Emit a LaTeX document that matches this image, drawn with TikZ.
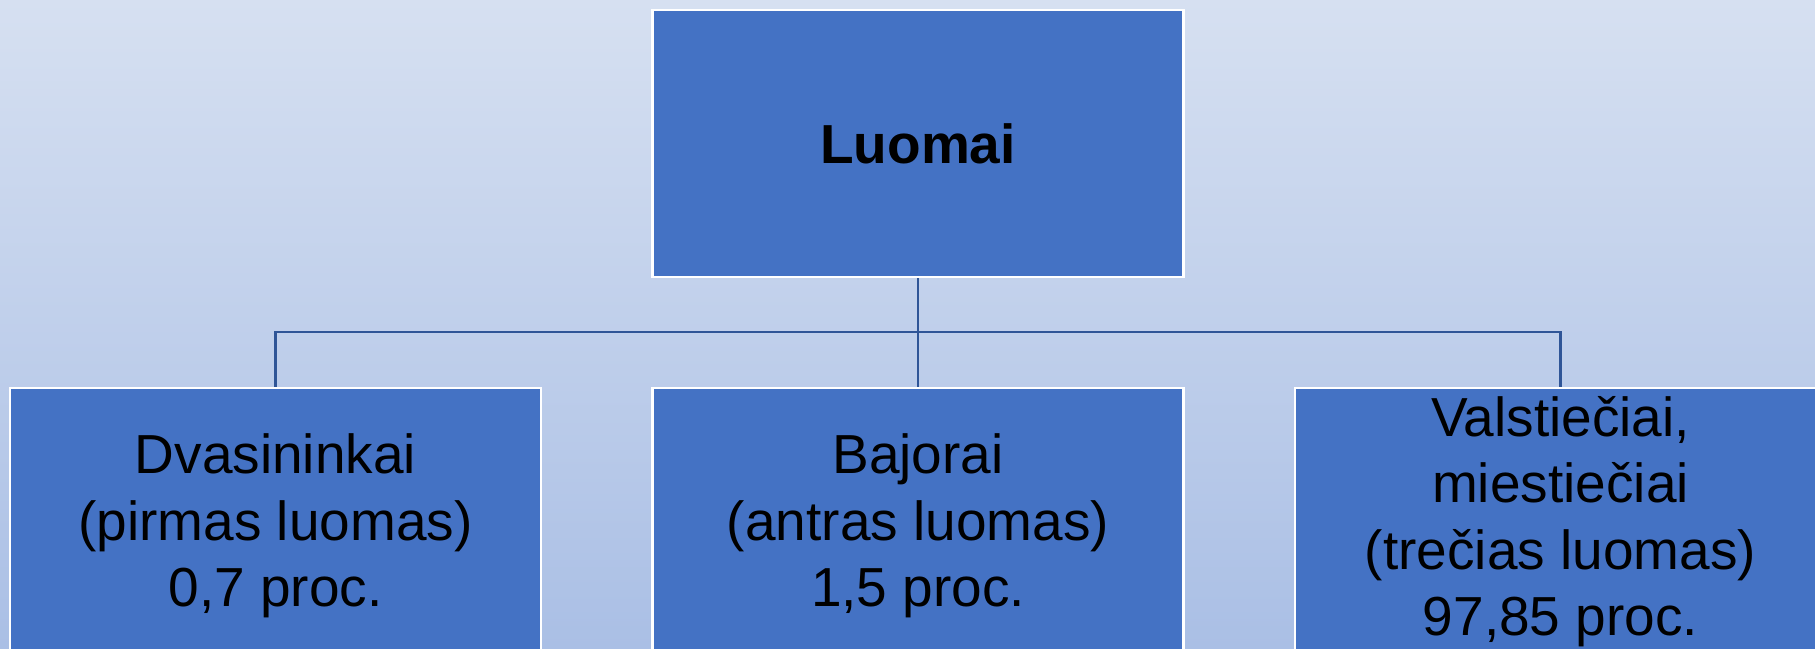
\documentclass[tikz,border=0pt]{standalone}
\usepackage{fontspec}
\setmainfont{Liberation Sans}
\begin{document}
\begin{tikzpicture}[x=0.5pt,y=-0.5pt,
  box/.style={rectangle, fill={rgb,255:red,68;green,114;blue,196}, draw=white, line width=1.2pt,
    minimum width=265.5pt, minimum height=133.5pt, inner sep=0pt, align=center,
    font=\fontsize{27.5}{33.2}\selectfont, text=black},
  lowbox/.style={box, minimum height=138pt},
  conn/.style={draw={rgb,255:red,47;green,85;blue,151}, line width=1.4pt}]
\useasboundingbox (0,0) rectangle (1815,648);
\clip (0,0) rectangle (1815,648);
\shade[top color={rgb,255:red,214;green,224;blue,241}, bottom color={rgb,255:red,170;green,191;blue,229}] (0,0) rectangle (1815,648);
\coordinate (bus) at (918,332);
\node[box] (top) at (918,143.5) {\textbf{Luomai}};
\node[lowbox] (b1) at (275.5,526) {Dvasininkai\\(pirmas luomas)\\0,7 proc.};
\node[lowbox] (b2) at (918,526) {Bajorai\\(antras luomas)\\1,5 proc.};
\node[lowbox] (b3) at (1560.5,526) {Valstiečiai,\\miestiečiai\\(trečias luomas)\\97,85 proc.\rule[-10pt]{0pt}{0pt}};
\draw[conn] (top.south) -- (b2.north);
\draw[conn] (b1.north) |- (b3.north |- bus) -- (b3.north);
\end{tikzpicture}
\end{document}
